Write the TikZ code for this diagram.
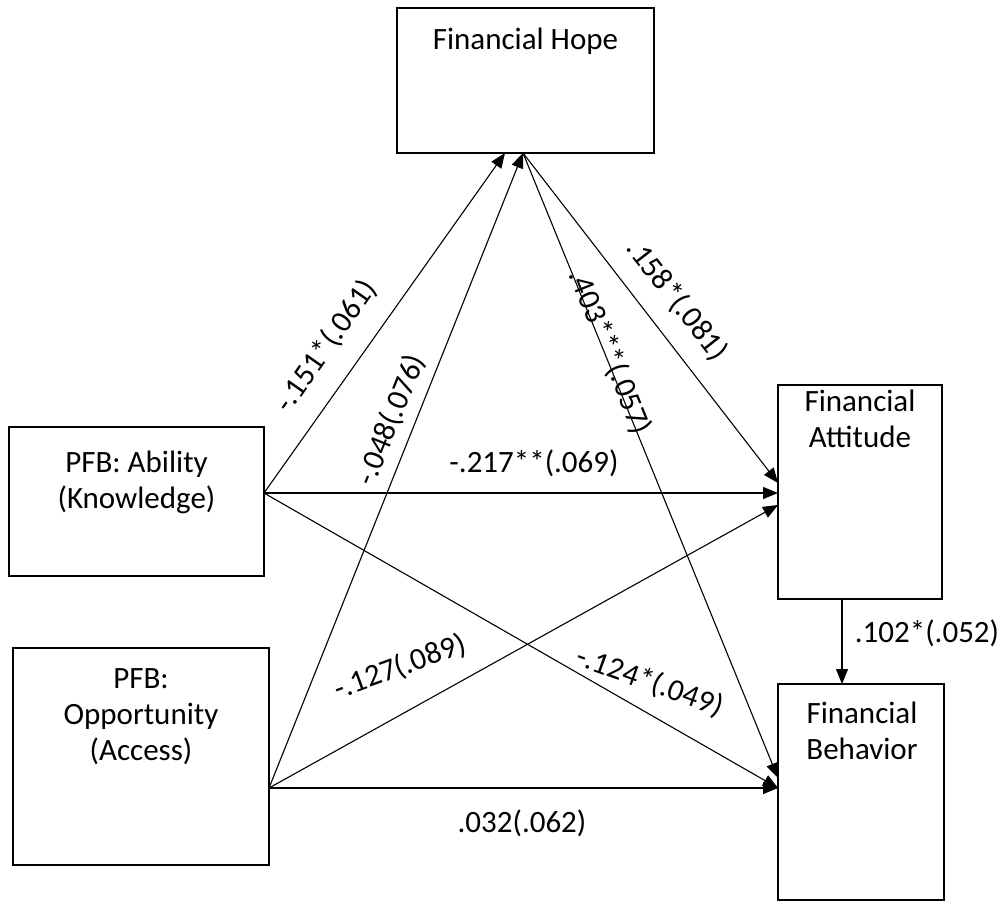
\documentclass[tikz,border=0pt]{standalone}
\usepackage{fontspec}
\setmainfont{Carlito}
\usetikzlibrary{arrows.meta}
\begin{document}
\begin{tikzpicture}[x=1pt,y=-1pt,
  box/.style={draw, line width=1.8pt, inner sep=0pt, outer sep=0pt},
  boxtext/.style={anchor=north, align=center, inner sep=0pt, font=\fontsize{31}{36}\selectfont},
  conn/.style={line width=1.1pt, -{Triangle[length=15pt,width=12pt]}},
  lab/.style={inner sep=0pt, font=\fontsize{31}{36}\selectfont}]
\useasboundingbox (0,0) rectangle (1008,903);
% boxes
\node[box, minimum width=257pt, minimum height=145pt] (hope) at (525.5,80.5) {};
\node[box, minimum width=255pt, minimum height=149pt] (abil) at (136.5,501.5) {};
\node[box, minimum width=256pt, minimum height=217pt] (opp) at (141,756.5) {};
\node[box, minimum width=164pt, minimum height=214pt] (att) at (860,492) {};
\node[box, minimum width=166pt, minimum height=216pt] (beh) at (861,792) {};
% box texts
\node[boxtext] (thope) at (525.5,28) {Financial Hope};
\node[boxtext] (tabil) at (136.5,451) {PFB: Ability\\(Knowledge)};
\node[boxtext] (topp) at (141,668) {PFB:\\Opportunity\\(Access)};
\node[boxtext] (tatt) at (860,390) {Financial\\Attitude};
\node[boxtext] (tbeh) at (862,702) {Financial\\Behavior};
% anchor points
\coordinate (hopeA) at (505,153);
\coordinate (hopeB) at (523,153);
\coordinate (abOut) at (264,493);
\coordinate (opOut) at (269,788);
\coordinate (attA) at (778,483);
\coordinate (attB) at (778,493);
\coordinate (attC) at (778,505);
\coordinate (behA) at (778,778);
\coordinate (behB) at (778,788);
\coordinate (attBot) at (842,599);
\coordinate (behTop) at (842,684);
% connectors
\draw[conn] (abOut) -- (hopeA);
\draw[conn] (opOut) -- (hopeB);
\draw[conn] (abOut) -- (attB);
\draw[conn] (abOut) -- (behB);
\draw[conn] (opOut) -- (attC);
\draw[conn] (opOut) -- (behB);
\draw[conn] (hopeB) -- (attA);
\draw[conn] (hopeB) -- (behA);
\draw[conn] (attBot) -- (behTop);
% labels
\node[lab, rotate=55] (l1) at (326,346) {-.151*(.061)};
\node[lab, rotate=68] (l2) at (391,420) {-.048(.076)};
\node[lab] (l3) at (534,463) {-.217**(.069)};
\node[lab, rotate=-52] (l4) at (677,300) {.158*(.081)};
\node[lab, rotate=-68] (l5) at (610,352) {.403***(.057)};
\node[lab, rotate=20] (l6) at (400,667) {-.127(.089)};
\node[lab, rotate=-20] (l7) at (650,682) {-.124*(.049)};
\node[lab] (l8) at (522,823) {.032(.062)};
\node[lab] (l9) at (927,633) {.102*(.052)};
\end{tikzpicture}
\end{document}
